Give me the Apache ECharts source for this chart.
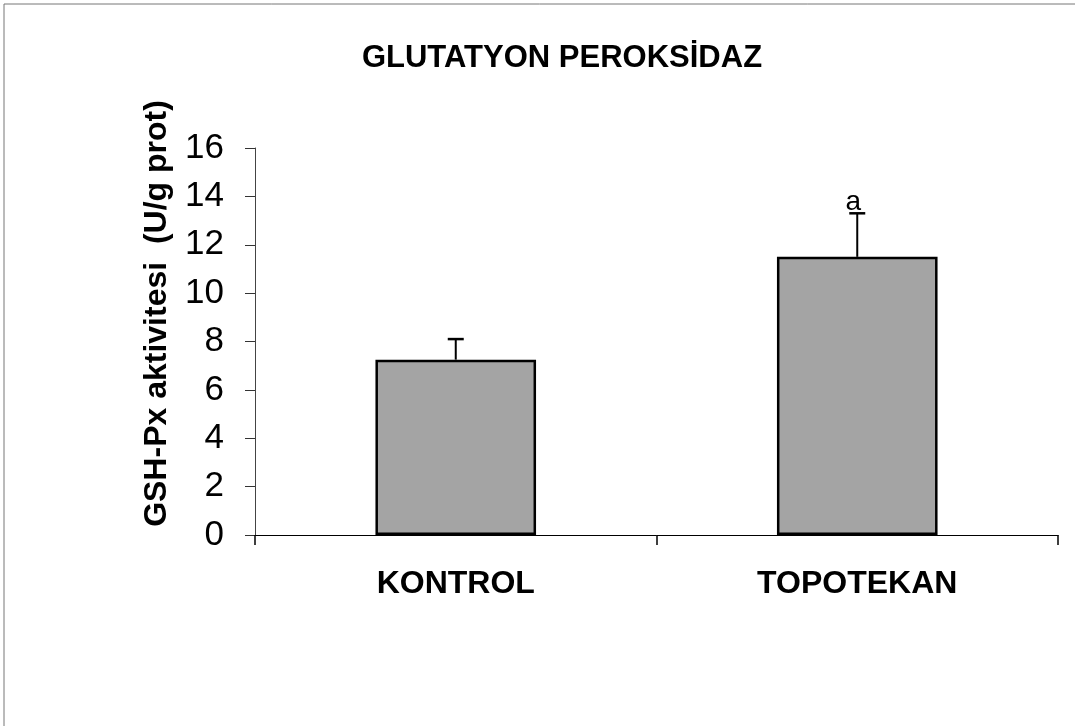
<!DOCTYPE html>
<html>
<head>
<meta charset="utf-8">
<script src="https://cdn.jsdelivr.net/npm/echarts@6/dist/echarts.min.js"></script>
<style>
  html, body {margin: 0; padding: 0; background: #fff;}
  #chart {width: 1075px; height: 726px;}
</style>
</head>
<body>
<div id="chart"></div>
<script>
const categories = ['KONTROL', 'TOPOTEKAN'];
const means = [7.25, 11.5];
const errTops = [8.1, 13.3];
const sigLabels = ['', 'a'];
const yTicks = [0, 2, 4, 6, 8, 10, 12, 14, 16];

const chart = echarts.init(document.getElementById('chart'));
const font = 'Arial, "Liberation Sans", sans-serif';

chart.setOption({
  backgroundColor: '#fff',
  animation: false,
  title: {
    text: 'GLUTATYON PEROKSİDAZ',
    left: 557,
    top: 38,
    textAlign: 'center',
    textStyle: {fontFamily: font, fontSize: 31, fontWeight: 'bold', color: '#000'}
  },
  graphic: [
    {type: 'line', shape: {x1: 4, y1: 4, x2: 1075, y2: 4}, style: {stroke: '#777', lineWidth: 1}},
    {type: 'line', shape: {x1: 4, y1: 4, x2: 4, y2: 726}, style: {stroke: '#777', lineWidth: 1}}
  ],
  grid: {left: 255, right: 17, top: 148, bottom: 191},
  xAxis: {
    type: 'category',
    data: categories,
    axisLine: {lineStyle: {color: '#000', width: 1}},
    axisTick: {show: true, length: 10, lineStyle: {color: '#000', width: 1.5}},
    axisLabel: {
      margin: 33,
      fontFamily: font, fontSize: 32, fontWeight: 'bold', color: '#000'
    }
  },
  yAxis: {
    type: 'value',
    min: yTicks[0],
    max: yTicks[yTicks.length - 1],
    interval: 2,
    name: 'GSH-Px aktivitesi  (U/g prot)',
    nameLocation: 'middle',
    nameGap: 82,
    nameTextStyle: {
      fontFamily: font, fontSize: 32, fontWeight: 'bold', color: '#000',
      padding: [0, 0, 0, 56]
    },
    axisLine: {show: true, lineStyle: {color: '#444', width: 1}},
    axisTick: {show: true, length: 10, lineStyle: {color: '#333', width: 1}},
    splitLine: {show: false},
    axisLabel: {margin: 31, fontFamily: font, fontSize: 35, color: '#000'}
  },
  series: [
    {
      type: 'bar',
      data: means,
      barWidth: '40%',
      itemStyle: {color: '#a4a4a4', borderColor: '#000', borderWidth: 2.5}
    },
    {
      type: 'custom',
      data: categories.map((c, i) => [i, means[i], errTops[i]]),
      z: 5,
      renderItem: function (params, api) {
        const base = api.coord([api.value(0), api.value(1)]);
        const top = api.coord([api.value(0), api.value(2)]);
        const label = sigLabels[params.dataIndex];
        const children = [
          {type: 'line', shape: {x1: base[0], y1: base[1], x2: top[0], y2: top[1]},
           style: {stroke: '#000', lineWidth: 2}},
          {type: 'line', shape: {x1: top[0] - 8, y1: top[1], x2: top[0] + 8, y2: top[1]},
           style: {stroke: '#000', lineWidth: 2.5}}
        ];
        if (label) {
          children.push({
            type: 'text',
            x: top[0] - 4, y: top[1] + 3,
            style: {text: label, fontFamily: font, fontSize: 28, fill: '#000',
                    align: 'center', verticalAlign: 'bottom'}
          });
        }
        return {type: 'group', children: children};
      }
    }
  ]
});
</script>
</body>
</html>
